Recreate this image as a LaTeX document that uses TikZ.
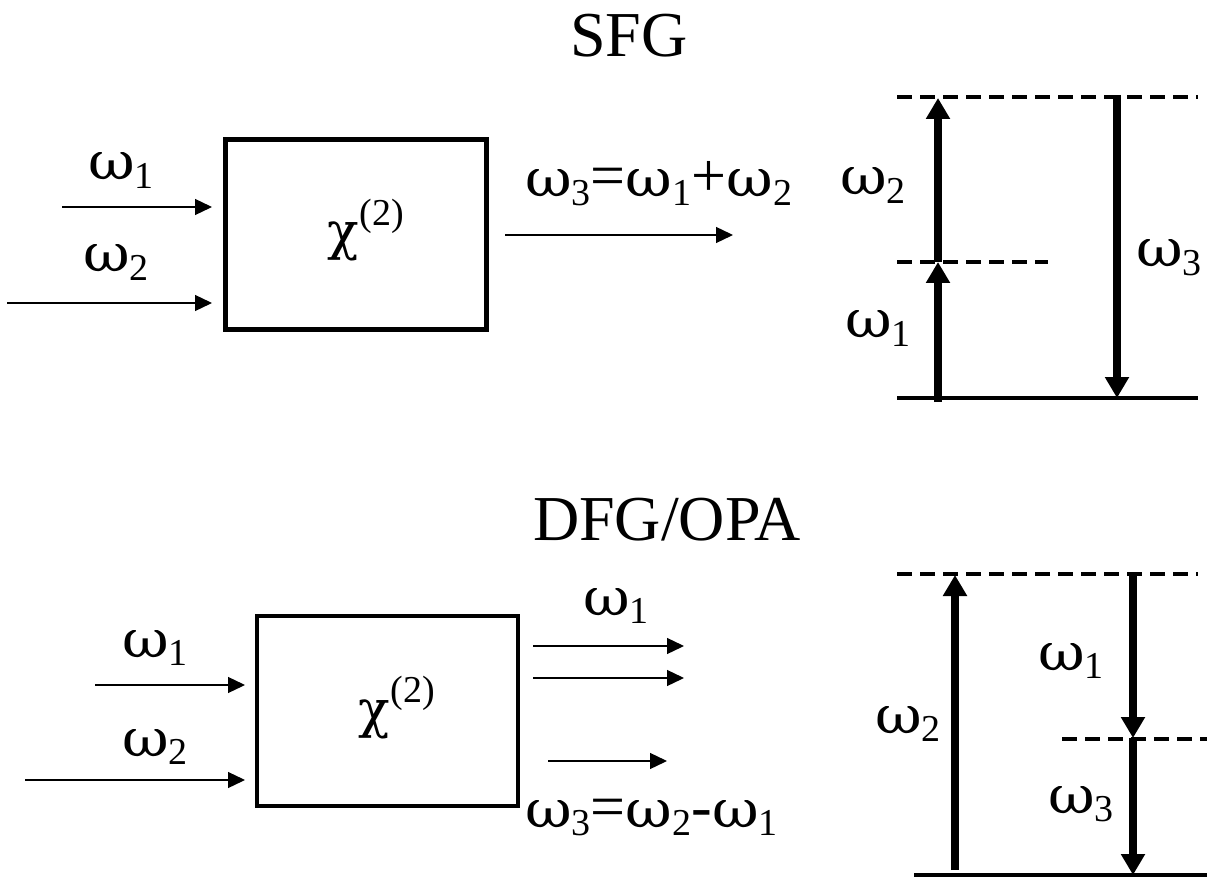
\documentclass[tikz,border=0pt]{standalone}
\usepackage{fontspec}
\usepackage{graphicx}
\setmainfont{Liberation Serif}
\newfontfamily\grk{DejaVu Serif}
\usetikzlibrary{arrows.meta}

% frequency label with a lowered index
\newcommand\om[1]{\scalebox{1.1}[1]{\grk\fontsize{52}{52}\selectfont ω}\raisebox{-0.13em}{\fontsize{38}{38}\selectfont #1}}
\newcommand\chitwo{{\grk\fontsize{52}{52}\selectfont χ}\kern0.02em\raisebox{0.40em}{\fontsize{38}{38}\selectfont (2)}}

\tikzset{
  lbl/.style={inner sep=0pt, anchor=base west, font=\fontsize{62}{62}\selectfont},
  ttl/.style={inner sep=0pt, anchor=base, font=\fontsize{64}{64}\selectfont},
  crystal/.style={draw, line width=4.5pt, minimum width=261pt, minimum height=190pt, inner sep=0pt},
  beam/.style={line width=1.3pt, -{Triangle[length=17pt,width=16pt]}},
  level/.style={line width=3.5pt},
  virt/.style={line width=3.5pt, dash pattern=on 15pt off 8pt},
  photon/.style={line width=7.5pt, -{Triangle[length=21pt,width=23pt]}},
}

\begin{document}
\begin{tikzpicture}[x=1pt,y=-1pt]
  \fill[white] (0,0) rectangle (1207,882);
  \useasboundingbox (0,0) rectangle (1207,882);

  % ---------- SFG ----------
  \node[ttl] (sfgtitle) at (629,57) {SFG};
  \node[crystal] (boxA) at (355.75,234.5) {};
  \node[lbl] (chiA) at (327,250) {\chitwo};

  \coordinate (inA1) at (62,207);   \coordinate (inA1e) at (212,207);
  \coordinate (inA2) at (7,303);    \coordinate (inA2e) at (212,303);
  \coordinate (outA) at (505,235);  \coordinate (outAe) at (733,235);
  \draw[beam] (inA1) -- (inA1e);
  \draw[beam] (inA2) -- (inA2e);
  \draw[beam] (outA) -- (outAe);
  \node[lbl] (wA1) at (88,180) {\om{1}};
  \node[lbl] (wA2) at (83,272) {\om{2}};
  \node[lbl] (wA3) at (525,197) {\om{3}=\om{1}+\om{2}};

  % levels
  \coordinate (gA) at (897,398);  \coordinate (gAe) at (1198,398);
  \coordinate (vA) at (897,262);  \coordinate (vAe) at (1048,262);
  \coordinate (tA) at (897,97);   \coordinate (tAe) at (1198,97);
  \draw[level] (gA) -- (gAe);
  \draw[virt] (vA) -- (vAe);
  \draw[virt] (tA) -- (tAe);
  \coordinate (pA0) at (938,402); \coordinate (pA1) at (938,262); \coordinate (pA2) at (938,98);
  \coordinate (pA3) at (1117,95); \coordinate (pA4) at (1117,398);
  \draw[photon] (pA0) -- (pA1);
  \draw[photon] (pA1) -- (pA2);
  \draw[photon] (pA3) -- (pA4);
  \node[lbl] (eA2) at (840,195) {\om{2}};
  \node[lbl] (eA1) at (845,338) {\om{1}};
  \node[lbl, anchor=base east] (eA3) at (1202,267) {\om{3}};

  % ---------- DFG/OPA ----------
  \node[ttl] (dfgtitle) at (667,540) {DFG/OPA};
  \node[crystal] (boxB) at (387.5,711) {};
  \node[lbl] (chiB) at (358,727) {\chitwo};

  \coordinate (inB1) at (95,685);   \coordinate (inB1e) at (245,685);
  \coordinate (inB2) at (25,780);   \coordinate (inB2e) at (245,780);
  \coordinate (outB1) at (533,646); \coordinate (outB1e) at (684,646);
  \coordinate (outB2) at (533,678); \coordinate (outB2e) at (684,678);
  \coordinate (outB3) at (548,761); \coordinate (outB3e) at (667,761);
  \draw[beam] (inB1) -- (inB1e);
  \draw[beam] (inB2) -- (inB2e);
  \draw[beam] (outB1) -- (outB1e);
  \draw[beam] (outB2) -- (outB2e);
  \draw[beam] (outB3) -- (outB3e);
  \node[lbl] (wB1) at (122,657) {\om{1}};
  \node[lbl] (wB2) at (122,756) {\om{2}};
  \node[lbl] (wB1o) at (583,615) {\om{1}};
  \node[lbl] (wB3) at (525,827) {\om{3}=\om{2}-\om{1}};

  % levels
  \coordinate (gB) at (914,875);  \coordinate (gBe) at (1207,875);
  \coordinate (vB) at (1062,739); \coordinate (vBe) at (1207,739);
  \coordinate (tB) at (897,574);  \coordinate (tBe) at (1198,574);
  \draw[level] (gB) -- (gBe);
  \draw[virt] (vB) -- (vBe);
  \draw[virt] (tB) -- (tBe);
  \coordinate (pB0) at (955,870); \coordinate (pB1) at (955,575);
  \coordinate (pB2) at (1133,575); \coordinate (pB3) at (1133,738); \coordinate (pB4) at (1133,875);
  \draw[photon] (pB0) -- (pB1);
  \draw[photon] (pB2) -- (pB3);
  \draw[photon] (pB3) -- (pB4);
  \node[lbl] (eB1) at (1038,670) {\om{1}};
  \node[lbl] (eB2) at (875,733) {\om{2}};
  \node[lbl] (eB3) at (1048,813) {\om{3}};
\end{tikzpicture}
\end{document}
